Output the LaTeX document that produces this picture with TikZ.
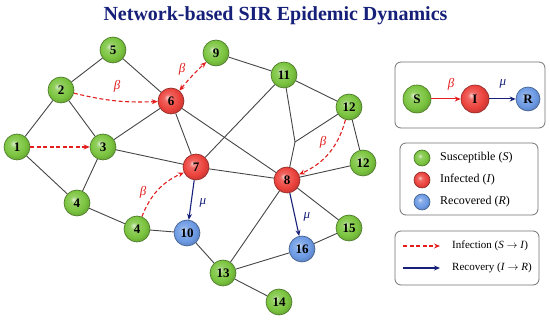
\documentclass[tikz,border=0pt]{standalone}
\usepackage{fontspec}
\setmainfont{Liberation Serif}
\usetikzlibrary{arrows.meta}
\definecolor{gcol}{RGB}{122,196,62}
\definecolor{rcol}{RGB}{236,66,60}
\definecolor{bcol}{RGB}{108,154,228}
\definecolor{navy}{RGB}{22,32,120}
\definecolor{infred}{RGB}{226,30,30}
\definecolor{edgegray}{RGB}{70,70,70}
\colorlet{nodecol}{gcol}
\pgfdeclareradialshading[nodecol]{myball}{\pgfqpoint{-7bp}{7bp}}{%
  color(0bp)=(nodecol!25!white); color(7bp)=(nodecol!80!white);
  color(20bp)=(nodecol); color(28bp)=(nodecol!85!black); color(50bp)=(nodecol!65!black)}
\tikzset{
  base/.style={circle, minimum size=26pt, inner sep=0pt, shading=myball,
    line width=0.6pt, font=\bfseries\fontsize{13}{13}\selectfont},
  sus/.style={base, /utils/exec=\colorlet{nodecol}{gcol}, draw=gcol!60!black},
  inf/.style={base, /utils/exec=\colorlet{nodecol}{rcol}, draw=rcol!60!black},
  rec/.style={base, /utils/exec=\colorlet{nodecol}{bcol}, draw=bcol!60!black},
  edge/.style={draw=edgegray, line width=0.9pt},
  infarrow/.style={draw=infred, line width=1.1pt, dash pattern=on 4pt off 2.5pt,
    -{Stealth[length=6pt,width=5pt]}},
  recarrow/.style={draw=navy, line width=1.1pt, -{Stealth[length=6pt,width=5pt]}},
  beta/.style={text=infred, font=\itshape\fontsize{13}{13}\selectfont},
  mu/.style={text=navy, font=\itshape\fontsize{13}{13}\selectfont},
  legbox/.style={draw=black!55, line width=0.8pt, rounded corners=6pt, fill=white},
  legtext/.style={anchor=west, font=\fontsize{12}{12}\selectfont, inner sep=0pt},
  legtextsm/.style={anchor=west, font=\fontsize{11}{11}\selectfont, inner sep=0pt}
}
\begin{document}
\begin{tikzpicture}[x=1pt,y=-1pt]
\useasboundingbox (0,0) rectangle (550,320);
\fill[white] (0,0) rectangle (550,320);
\node[text=navy, font=\bfseries\fontsize{20}{20}\selectfont] (title) at (275.5,16) {Network-based SIR Epidemic Dynamics};

% nodes
\node[sus] (n1) at (17,147) {1};
\node[sus] (n2) at (61,90) {2};
\node[sus] (n3) at (103,147) {3};
\node[sus] (n4a) at (77,203) {4};
\node[sus] (n4b) at (137,229) {4};
\node[sus] (n5) at (113,50) {5};
\node[inf] (n6) at (171,101) {6};
\node[inf] (n7) at (196,167) {7};
\node[inf] (n8) at (287,180) {8};
\node[sus] (n9) at (216,53) {9};
\node[rec] (n10) at (187,233) {10};
\node[sus] (n11) at (284,75) {11};
\node[sus] (n12a) at (349,107) {12};
\node[sus] (n12b) at (363,163) {12};
\node[sus] (n13) at (223,273) {13};
\node[sus] (n14) at (279,302) {14};
\node[sus] (n15) at (349,228) {15};
\node[rec] (n16) at (302,249) {16};
\coordinate (J) at (295,142);

% edges
\draw[edge] (n1) -- (n2);
\draw[edge] (n1) -- (n4a);
\draw[edge] (n2) -- (n5);
\draw[edge] (n2) -- (n3);
\draw[edge] (n5) -- (n6);
\draw[edge] (n3) -- (n6);
\draw[edge] (n3) -- (n4a);
\draw[edge] (n3) -- (n7);
\draw[edge] (n6) -- (n7);
\draw[edge] (n6) -- (n8);
\draw[edge] (n7) -- (n11);
\draw[edge] (n7) -- (n8);
\draw[edge] (n9) -- (n11);
\draw[edge] (n11) -- (n12a);
\draw[edge] (n11) -- (J);
\draw[edge] (J) -- (n8);
\draw[edge] (J) -- (n12a);
\draw[edge] (n12a) -- (n12b);
\draw[edge] (n12b) -- (n8);
\draw[edge] (n4a) -- (n4b);
\draw[edge] (n4b) -- (n10);
\draw[edge] (n10) -- (n13);
\draw[edge] (n13) -- (n8);
\draw[edge] (n13) -- (n16);
\draw[edge] (n13) -- (n14);
\draw[edge] (n16) -- (n15);
\draw[edge] (n15) -- (n8);

% infection arrows
\draw[infarrow] (n1) -- (n3);
\draw[infarrow] (n2) to[bend right=8] (n6);
\draw[infarrow, {Stealth[length=6pt,width=5pt]}-{Stealth[length=6pt,width=5pt]}] (n6) to[bend left=4] (n9);
\draw[infarrow] (n12a) to[bend left=25] (n8);
\draw[infarrow] (n4b) to[bend left=22] (n7);
\node[beta] (b1) at (117,86) {β};
\node[beta] (b2) at (182,69) {β};
\node[beta] (b3) at (323,142) {β};
\node[beta] (b4) at (143,192) {β};

% recovery arrows
\draw[recarrow] (n7) -- (n10);
\draw[recarrow] (n8) -- (n16);
\node[mu] (m1) at (203,203) {μ};
\node[mu] (m2) at (307,217) {μ};

% legend box 1
\node[legbox, minimum width=150pt, minimum height=66pt] (box1) at (470,95) {};
\node[sus, minimum size=28pt] (S) at (417,99) {S};
\node[inf, minimum size=28pt] (I) at (475,99) {I};
\node[rec, minimum size=24pt] (R) at (528,99) {R};
\draw[draw=infred, line width=1pt, -{Stealth[length=6pt,width=5pt]}] (S) -- (I);
\draw[recarrow, line width=1pt] (I) -- (R);
\node[beta] (bl) at (451,84) {β};
\node[mu] (ml) at (503,84) {μ};

% legend box 2
\node[legbox, minimum width=138pt, minimum height=72pt] (box2) at (469,179) {};
\node[sus, minimum size=16pt] (lg) at (422,158) {};
\node[inf, minimum size=16pt] (lr) at (422,180) {};
\node[rec, minimum size=16pt] (lb) at (422,202) {};
\node[legtext] (tg) at (440,158) {Susceptible (\textit{S})};
\node[legtext] (tr) at (440,180) {Infected (\textit{I})};
\node[legtext] (tb) at (440,202) {Recovered (\textit{R})};

% legend box 3
\node[legbox, minimum width=144pt, minimum height=54pt] (box3) at (467,258) {};
\coordinate (ia) at (403,246);
\coordinate (ib) at (440,246);
\coordinate (ra) at (403,268);
\coordinate (rb) at (440,268);
\draw[infarrow] (ia) -- (ib);
\draw[recarrow] (ra) -- (rb);
\node[legtextsm] (ti) at (452,246) {Infection (\textit{S} $\rightarrow$ \textit{I})};
\node[legtextsm] (tre) at (452,268) {Recovery (\textit{I} $\rightarrow$ \textit{R})};
\end{tikzpicture}
\end{document}
